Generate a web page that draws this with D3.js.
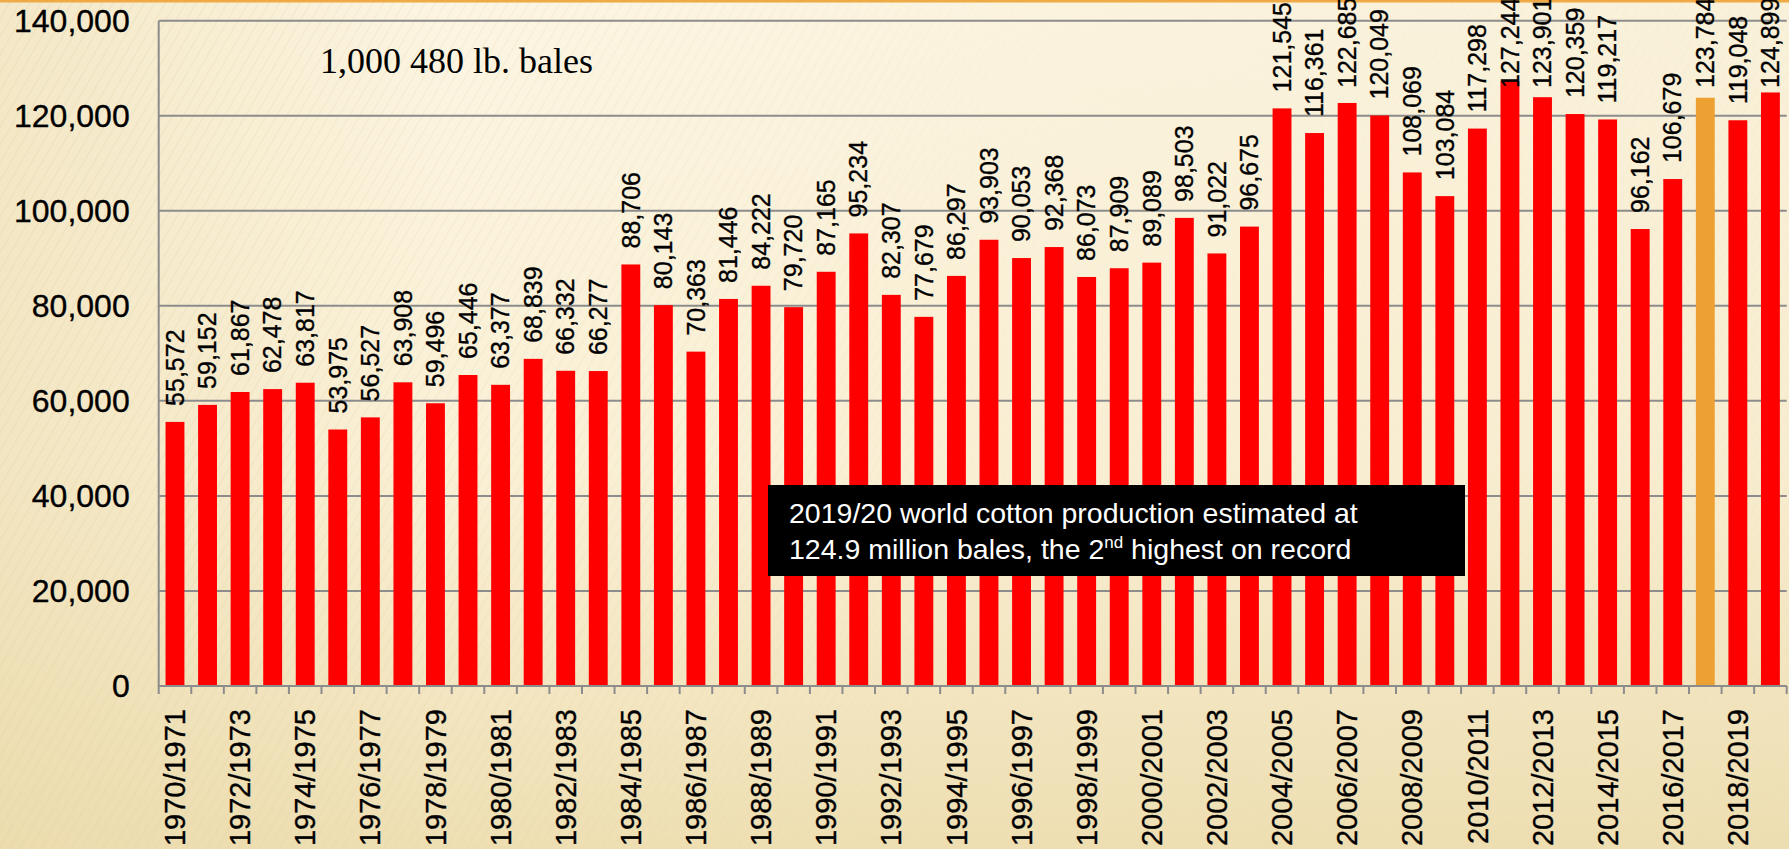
<!DOCTYPE html>
<html>
<head>
<meta charset="utf-8">
<script src="https://cdn.jsdelivr.net/npm/d3@7"></script>
<style>
  html, body { margin: 0; padding: 0; background: #fbf3dc; }
  svg { display: block; }
</style>
</head>
<body>
<svg id="chart" width="1789" height="849"></svg>
<script>
// World cotton production, marketing years 1970/71 - 2019/20 (1,000 480 lb. bales)
const seasons = [
  "1970/1971","1971/1972","1972/1973","1973/1974","1974/1975","1975/1976","1976/1977","1977/1978",
  "1978/1979","1979/1980","1980/1981","1981/1982","1982/1983","1983/1984","1984/1985","1985/1986",
  "1986/1987","1987/1988","1988/1989","1989/1990","1990/1991","1991/1992","1992/1993","1993/1994",
  "1994/1995","1995/1996","1996/1997","1997/1998","1998/1999","1999/2000","2000/2001","2001/2002",
  "2002/2003","2003/2004","2004/2005","2005/2006","2006/2007","2007/2008","2008/2009","2009/2010",
  "2010/2011","2011/2012","2012/2013","2013/2014","2014/2015","2015/2016","2016/2017","2017/2018",
  "2018/2019","2019/2020"
];
const production = [
  55572, 59152, 61867, 62478, 63817, 53975, 56527, 63908,
  59496, 65446, 63377, 68839, 66332, 66277, 88706, 80143,
  70363, 81446, 84222, 79720, 87165, 95234, 82307, 77679,
  86297, 93903, 90053, 92368, 86073, 87909, 89089, 98503,
  91022, 96675, 121545, 116361, 122685, 120049, 108069, 103084,
  117298, 127244, 123901, 120359, 119217, 96162, 106679, 123784,
  119048, 124899
];
const highlighted = ["2017/2018"];
const yTicks = [0, 20000, 40000, 60000, 80000, 100000, 120000, 140000];
const unitNote = "1,000 480 lb. bales";
const noteLines = ["2019/20 world cotton production estimated at", "124.9 million bales, the 2"];

const W = 1789, H = 849;
const svg = d3.select("#chart");
const defs = svg.append("defs");

// Paper-like backdrop: warm cream that deepens toward the bottom
const bg = defs.append("linearGradient").attr("id", "bgGrad")
  .attr("x1", 0).attr("y1", 0).attr("x2", 0).attr("y2", 1);
bg.append("stop").attr("offset", "0%").attr("stop-color", "#fcf5e2");
bg.append("stop").attr("offset", "55%").attr("stop-color", "#faf0d6");
bg.append("stop").attr("offset", "100%").attr("stop-color", "#eedfb3");

const side = defs.append("linearGradient").attr("id", "sideGrad")
  .attr("x1", 0).attr("y1", 0).attr("x2", 1).attr("y2", 0);
side.append("stop").attr("offset", "0%").attr("stop-color", "#e9d8a8").attr("stop-opacity", 0.45);
side.append("stop").attr("offset", "25%").attr("stop-color", "#e9d8a8").attr("stop-opacity", 0.0);
side.append("stop").attr("offset", "100%").attr("stop-color", "#e9d8a8").attr("stop-opacity", 0.15);

const hatch = defs.append("pattern").attr("id", "hatch")
  .attr("width", 9).attr("height", 9)
  .attr("patternUnits", "userSpaceOnUse")
  .attr("patternTransform", "rotate(30)");
hatch.append("line").attr("x1", 0).attr("y1", 0).attr("x2", 0).attr("y2", 9)
  .attr("stroke", "#e4d3a4").attr("stroke-width", 1.4).attr("stroke-opacity", 0.55);

const hatchFade = defs.append("linearGradient").attr("id", "hatchFade")
  .attr("x1", 0).attr("y1", 0).attr("x2", 1).attr("y2", 0);
hatchFade.append("stop").attr("offset", "0%").attr("stop-color", "#fff").attr("stop-opacity", 1);
hatchFade.append("stop").attr("offset", "35%").attr("stop-color", "#fff").attr("stop-opacity", 0.5);
hatchFade.append("stop").attr("offset", "60%").attr("stop-color", "#fff").attr("stop-opacity", 0.1);
hatchFade.append("stop").attr("offset", "100%").attr("stop-color", "#fff").attr("stop-opacity", 0.25);
defs.append("mask").attr("id", "hatchMask")
  .append("rect").attr("width", W).attr("height", H).attr("fill", "url(#hatchFade)");

svg.append("rect").attr("width", W).attr("height", H).attr("fill", "url(#bgGrad)");
svg.append("rect").attr("width", W).attr("height", H).attr("fill", "url(#sideGrad)");
svg.append("rect").attr("width", W).attr("height", H).attr("fill", "url(#hatch)")
  .attr("mask", "url(#hatchMask)");
svg.append("rect").attr("width", W).attr("height", 2.5).attr("fill", "#efaa45");

// Plot area
const plotLeft = 158.7, plotRight = 1786.7, plotTop = 20.7, plotBottom = 686;

const x = d3.scaleBand().domain(seasons).range([plotLeft, plotRight])
  .paddingInner(0.42).paddingOuter(0.21);
const y = d3.scaleLinear().domain([0, 140000]).range([plotBottom, plotTop]);

const axisColor = "#8c8c8c";
const sans = "'Liberation Sans', Arial, sans-serif";
const ink = sel => sel.attr("fill", "#000").attr("stroke", "#000").attr("stroke-width", 0.35);

// Horizontal gridlines
svg.append("g").selectAll("line").data(yTicks.filter(d => d > 0)).join("line")
  .attr("x1", plotLeft).attr("x2", plotRight)
  .attr("y1", d => y(d)).attr("y2", d => y(d))
  .attr("stroke", axisColor).attr("stroke-width", 2);

// Y axis labels
const yAxis = svg.append("g").attr("transform", `translate(${plotLeft},0)`)
  .call(d3.axisLeft(y).tickValues(yTicks).tickSize(0).tickPadding(29).tickFormat(d3.format(",")));
yAxis.select(".domain").remove();
yAxis.selectAll("text").attr("font-family", sans).attr("font-size", 32).attr("dy", "0.34em").call(ink);

// Bars
svg.append("g").selectAll("rect").data(seasons).join("rect")
  .attr("x", d => x(d))
  .attr("width", x.bandwidth())
  .attr("y", (d, i) => y(production[i]))
  .attr("height", (d, i) => y(0) - y(production[i]))
  .attr("fill", d => highlighted.includes(d) ? "#eca132" : "#ff0000");

// Axis lines and category ticks
svg.append("line").attr("x1", plotLeft).attr("x2", plotLeft).attr("y1", plotTop).attr("y2", plotBottom)
  .attr("stroke", axisColor).attr("stroke-width", 2);
const step = x.step();
const tickPos = d3.range(seasons.length + 1).map(i => x(seasons[0]) - x.paddingOuter() * step + i * step);
svg.append("line").attr("x1", plotLeft).attr("x2", plotRight).attr("y1", plotBottom).attr("y2", plotBottom)
  .attr("stroke", axisColor).attr("stroke-width", 2);
svg.append("g").selectAll("line").data(tickPos).join("line")
  .attr("x1", d => d).attr("x2", d => d).attr("y1", plotBottom).attr("y2", plotBottom + 8)
  .attr("stroke", axisColor).attr("stroke-width", 2);

// Category labels (every other season)
svg.append("g").selectAll("text").data(seasons.filter((d, i) => i % 2 === 0)).join("text")
  .attr("transform", d => `translate(${x(d) + x.bandwidth() / 2},${plotBottom + 23}) rotate(-90)`)
  .attr("text-anchor", "end").attr("dy", "0.35em")
  .attr("font-family", sans).attr("font-size", 29)
  .text(d => d).call(ink);

// Value labels above bars; tall ones are held inside the top edge of the chart
const fmt = d3.format(",");
const labelAnchor = v => Math.max(y(v) - 16, 88);
svg.append("g").selectAll("text").data(seasons).join("text")
  .attr("transform", (d, i) => `translate(${x(d) + x.bandwidth() / 2},${labelAnchor(production[i])}) rotate(-90)`)
  .attr("text-anchor", "start").attr("dy", "0.35em")
  .attr("font-family", sans).attr("font-size", 25)
  .text((d, i) => fmt(production[i])).call(ink);

// Unit note
svg.append("text").attr("x", 320).attr("y", 72.5)
  .attr("font-family", "'Liberation Serif', 'Times New Roman', serif")
  .attr("font-size", 36).attr("fill", "#000").text(unitNote);

// Annotation box
const note = svg.append("g");
note.append("rect").attr("x", 768).attr("y", 485).attr("width", 697).attr("height", 91).attr("fill", "#000");
note.append("text").attr("x", 789).attr("y", 523)
  .attr("font-family", sans).attr("font-size", 28.5).attr("fill", "#fff")
  .text(noteLines[0]);
const l2 = note.append("text").attr("x", 789).attr("y", 559)
  .attr("font-family", sans).attr("font-size", 28.5).attr("fill", "#fff");
l2.append("tspan").text(noteLines[1]);
l2.append("tspan").attr("font-size", 17).attr("dy", -11).text("nd");
l2.append("tspan").attr("dy", 11).text(" highest on record");
</script>
</body>
</html>
